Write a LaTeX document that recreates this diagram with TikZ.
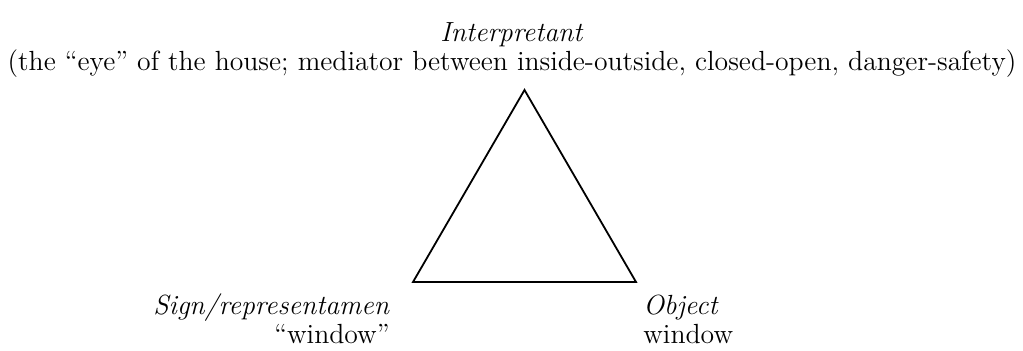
\documentclass[tikz,border=0pt]{standalone}
\usepackage{fontspec}
\usepackage{tikz}

\begin{document}
\begin{tikzpicture}[x=0.5pt, y=-0.5pt]
  \tikzset{lbl/.style={inner sep=0pt, font=\fontsize{13.85}{14.8}\selectfont}}
  \useasboundingbox (0,0) rectangle (1023,351);
  \coordinate (apex) at (524.5,90);
  \coordinate (sign) at (413,282);
  \coordinate (obj) at (636,282);
  \draw[black, line width=0.9pt, line join=miter] (sign) -- (apex) -- (obj) -- cycle;
  \node[lbl, anchor=base, align=center] (interp) at (512,71)
    {\textit{Interpretant}\\(the ``eye'' of the house; mediator between inside-outside, closed-open, danger-safety)};
  \node[lbl, anchor=base east, align=right] (signlbl) at (390,344)
    {\textit{Sign/representamen}\\``window''};
  \node[lbl, anchor=base west, align=left] (objlbl) at (643,344)
    {\textit{Object}\\window};
\end{tikzpicture}
\end{document}
